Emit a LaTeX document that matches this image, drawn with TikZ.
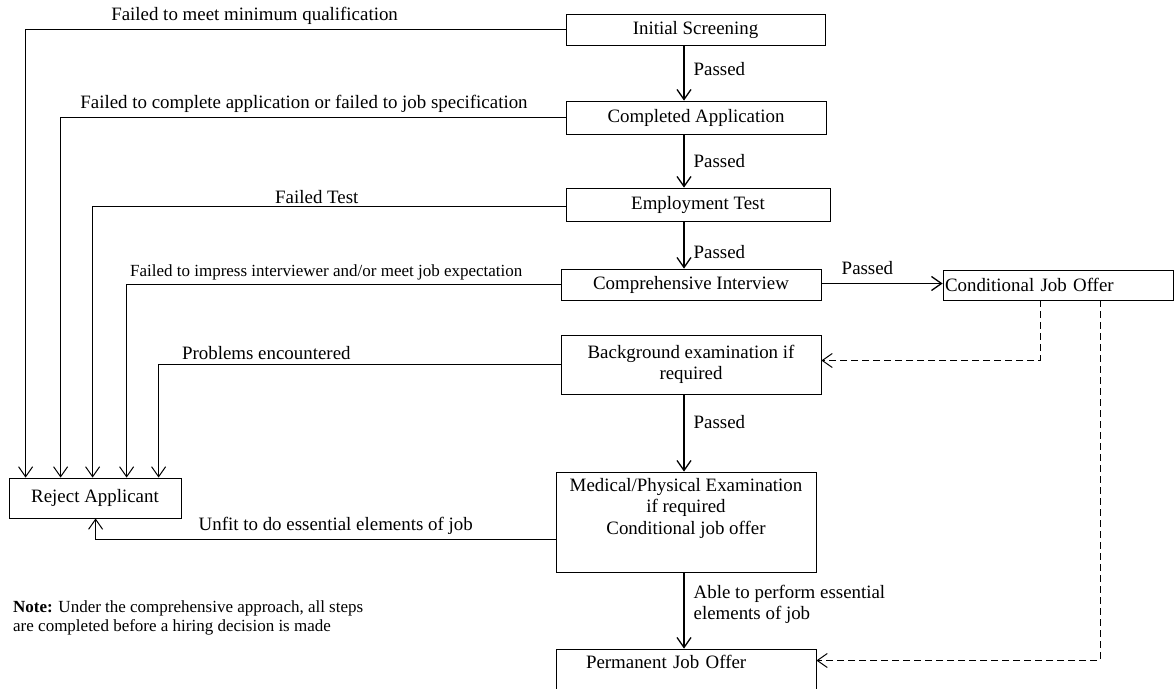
\documentclass[tikz,border=0pt]{standalone}
\usepackage{fontspec}
\setmainfont{Liberation Serif}
\usepackage{tikz}
\usetikzlibrary{arrows.meta,calc,positioning}
\newcommand{\boxfont}{\fontsize{18.9}{21.5}\selectfont}
\newcommand{\smallfont}{\fontsize{17}{19}\selectfont}
\tikzset{%
	stage/.style    = {draw, rectangle, line width=0.8pt, inner sep=2pt, align=center, font=\boxfont},
	edgetext/.style = {inner sep=1pt, font=\boxfont},
	flow/.style     = {line width=1.3pt, ->},
	fail/.style     = {line width=1pt, ->},
	offer/.style    = {line width=1pt, dash pattern=on 7pt off 4pt, ->},
}

\begin{document}
\begin{tikzpicture}[x=1pt,y=-1pt,>={Straight Barb[length=10pt,width=14pt]}]
	\useasboundingbox (0,0) rectangle (1174,688);
	\clip (0,0) rectangle (1174,688);
	% stages
	\node [stage, minimum width=259pt, minimum height=31pt] (screen) at (695.5,29.5) {Initial Screening};
	\node [stage, minimum width=260pt, minimum height=33pt] (appl) at (696,117.5) {Completed Application};
	\node [stage, minimum width=264pt, minimum height=33pt] (test) at (698,204.5) {Employment Test};
	\node [stage, minimum width=260pt, minimum height=31pt] (interview) at (691,284.5) {Comprehensive Interview};
	\node [stage, minimum width=230pt, minimum height=30pt, text width=226pt, align=left] (cond) at (1058,285) {Conditional Job Offer};
	\node [stage, minimum width=260pt, minimum height=59pt] (backgr) at (691,364.5) {Background examination if\\required};
	\node [stage, minimum width=260pt, minimum height=100pt] (medical) at (686,522) {Medical/Physical Examination\\if required\\Conditional job offer\\[10pt]\mbox{}};
	\node [stage, minimum width=260pt, minimum height=51pt, text width=200pt, align=left] (perm) at (686,674.5) {Permanent Job Offer\\[3.5pt]\mbox{}};
	\node [stage, minimum width=172pt, minimum height=40pt] (reject) at (95,498) {Reject Applicant};
	\coordinate (spine) at (684,0);

	% passed path
	\draw[flow] (screen.south -| spine) -- node[edgetext, right=8pt, pos=.42] {Passed} (appl.north -| spine);
	\draw[flow] (appl.south -| spine) -- node[edgetext, right=8pt, pos=.5] {Passed} (test.north -| spine);
	\draw[flow] (test.south -| spine) -- node[edgetext, right=8pt, pos=.65] {Passed} (interview.north -| spine);
	\draw[flow] (interview.east |- 0,283.5) -- node[edgetext, above=7pt, pos=.38] {Passed} (cond.west |- 0,283.5);
	\draw[flow] (backgr.south -| spine) -- node[edgetext, right=8pt, pos=.36] {Passed} (medical.north -| spine);
	\draw[flow] (medical.south -| spine) -- node[edgetext, right=8pt, pos=.42, align=left] {Able to perform essential\\elements of job} (perm.north -| spine);

	% rejections
	\draw[fail] (screen.west) -| node[edgetext, above=3pt, pos=.288] {Failed to meet minimum qualification} ([xshift=17pt]reject.north west);
	\draw[fail] (appl.west) -| node[edgetext, above=3pt, pos=.259] {Failed to complete application or failed to job specification} ([xshift=52pt]reject.north west);
	\draw[fail] ([yshift=-2pt]test.west) -| node[edgetext, above=1pt, pos=.263] {Failed Test} ([xshift=84pt]reject.north west);
	\draw[fail] (interview.west) -| node[edgetext, above=3pt, pos=.27, font=\smallfont] {Failed to impress interviewer and/or meet job expectation} ([xshift=118pt]reject.north west);
	\draw[fail] (backgr.west) -| node[edgetext, above=3pt, pos=.366] {Problems encountered} ([xshift=150pt]reject.north west);
	\draw[fail] ([yshift=-17pt]medical.west) -| node[edgetext, above=3pt, pos=.239] {Unfit to do essential elements of job} ([xshift=87pt]reject.south west);

	% offers
	\draw[offer] (cond.south -| 1040,0) |- ([yshift=4pt]backgr.east);
	\draw[offer] (cond.south -| 1100,0) |- ([yshift=14pt]perm.east);

	\node [anchor=north west, inner sep=0pt, text width=350pt, align=justify, font=\smallfont] (note) at (13,600)
		{\textbf{Note:} Under the comprehensive approach, all steps are completed before a hiring decision is made};
\end{tikzpicture}
\end{document}
